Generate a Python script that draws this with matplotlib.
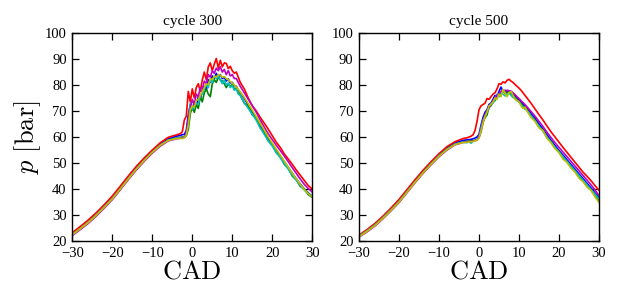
import matplotlib
matplotlib.use("Agg")
import matplotlib.pyplot as plt

plt.rcParams['font.family'] = ['Liberation Serif', 'DejaVu Serif']
plt.rcParams['mathtext.fontset'] = 'cm'

# crank angle grid: coarse on compression, finer around combustion
cad = [-30, -28, -26, -24, -22, -20, -18, -16, -14, -12, -10, -8, -6, -4,
       -3, -2.5, -2, -1.5, -1, -0.5, 0, 0.5, 1, 1.5, 2, 2.5, 3, 3.5, 4, 4.5,
       5, 5.5, 6, 6.5, 7, 7.5, 8, 8.5, 9, 9.5, 10, 10.5, 11, 11.5, 12,
       13, 14, 15, 16, 17, 18, 19, 20, 21, 22, 23, 24, 25, 26, 27, 28, 29, 30]

# cycle 300
p300_b = [22.5, 24.8, 27.2, 30.0, 33.1, 36.4, 40.2, 44.1, 47.8, 51.3, 54.4, 57.2, 59.3, 60.3,
          60.6, 60.9, 61.0, 62.5, 68.5, 72.5, 70.5, 73.5, 72.0, 75.5, 74.5, 78.0, 79.5, 78.0, 82.0, 81.0,
          83.5, 82.5, 84.5, 83.0, 84.0, 82.5, 83.0, 81.5, 82.3, 80.8, 81.0, 79.8, 79.5, 78.0, 77.2,
          74.8, 72.3, 69.5, 67.2, 64.3, 61.8, 59.2, 57.0, 54.8, 52.7, 50.4, 48.2, 46.0, 43.9, 41.9, 40.0, 38.5, 37.2]
p300_g = [22.4, 24.7, 27.1, 29.9, 33.0, 36.2, 40.0, 43.9, 47.6, 51.0, 54.1, 56.8, 58.8, 59.6,
          59.8, 60.0, 59.9, 60.5, 63.0, 69.0, 71.5, 69.5, 72.5, 71.0, 75.5, 73.5, 77.0, 78.5, 76.5, 75.5,
          80.5, 82.0, 81.0, 83.0, 82.0, 81.5, 80.5, 79.0, 80.5, 79.5, 80.2, 78.5, 78.8, 77.0, 76.0,
          73.0, 72.0, 68.5, 67.5, 63.5, 61.8, 58.5, 57.2, 54.0, 52.5, 49.5, 48.0, 45.0, 43.5, 41.0, 40.0, 37.8, 36.8]
p300_r = [23.2, 25.6, 28.1, 30.9, 34.0, 37.3, 41.1, 45.0, 48.7, 52.0, 55.0, 57.8, 59.9, 60.8,
          61.3, 62.0, 66.5, 68.0, 77.5, 73.5, 78.5, 75.0, 79.0, 80.5, 77.5, 82.0, 85.0, 82.0, 87.0, 88.5,
          85.5, 88.0, 90.2, 86.5, 89.5, 87.0, 88.5, 88.3, 86.3, 87.2, 85.5, 84.5, 85.0, 83.0, 81.0,
          78.5, 75.0, 72.0, 70.0, 67.5, 65.3, 63.0, 60.5, 58.0, 56.0, 53.5, 51.5, 49.5, 47.3, 45.3, 43.3, 41.3, 40.0]
p300_c = [22.5, 24.8, 27.2, 30.0, 33.1, 36.3, 40.1, 44.0, 47.7, 51.1, 54.2, 56.9, 58.8, 59.5,
          59.6, 59.6, 59.8, 61.0, 66.0, 73.0, 70.5, 72.0, 73.0, 72.5, 76.0, 76.5, 78.5, 80.0, 79.0, 82.0,
          81.0, 83.5, 82.5, 83.5, 82.0, 80.5, 82.0, 80.0, 80.8, 79.0, 79.8, 78.0, 78.5, 76.5, 76.0,
          73.2, 71.0, 68.8, 66.4, 63.5, 61.0, 58.5, 56.5, 54.0, 52.0, 49.8, 47.6, 45.4, 43.4, 41.4, 39.6, 38.2, 37.0]
p300_m = [22.1, 24.4, 26.8, 29.6, 32.7, 35.9, 39.7, 43.6, 47.3, 50.7, 53.8, 56.5, 58.5, 59.3,
          59.5, 59.6, 59.8, 61.5, 67.0, 71.0, 74.5, 72.5, 76.5, 75.5, 79.0, 78.5, 81.5, 80.5, 84.0, 83.0,
          85.5, 84.5, 86.5, 85.5, 87.0, 85.0, 86.0, 84.0, 85.5, 83.5, 84.0, 82.5, 82.5, 81.0, 79.5,
          77.0, 74.5, 72.0, 69.5, 66.5, 63.8, 61.2, 59.0, 56.8, 54.8, 52.7, 50.5, 48.2, 46.0, 43.8, 41.8, 40.2, 38.8]
p300_y = [22.4, 24.7, 27.1, 29.9, 33.0, 36.2, 40.0, 43.9, 47.6, 51.0, 54.1, 56.8, 58.7, 59.4,
          59.5, 59.4, 59.6, 60.8, 64.5, 70.5, 72.0, 71.5, 74.0, 74.5, 76.0, 77.5, 79.0, 80.5, 80.0, 82.5,
          82.0, 83.5, 83.0, 84.0, 83.8, 83.0, 83.2, 82.5, 82.0, 81.3, 80.8, 80.0, 79.3, 78.3, 77.3,
          75.2, 72.8, 70.3, 67.8, 65.2, 62.6, 60.0, 57.6, 55.3, 53.0, 50.7, 48.4, 46.1, 43.9, 41.8, 39.8, 38.2, 37.0]

# cycle 500
p500_b = [22.0, 24.0, 26.4, 29.2, 32.3, 35.5, 39.3, 43.1, 46.7, 50.0, 53.1, 55.8, 57.8, 58.7,
          58.9, 59.0, 59.1, 59.3, 59.6, 60.0, 61.0, 64.5, 67.5, 69.5, 70.5, 72.5, 73.0, 74.5, 76.0, 75.5,
          77.5, 79.2, 77.5, 78.0, 77.0, 77.8, 77.5, 76.5, 76.0, 75.0, 74.2, 73.5, 72.5, 71.8, 71.0,
          69.0, 67.2, 65.0, 63.0, 60.8, 58.7, 56.7, 54.8, 53.0, 51.2, 49.4, 47.6, 45.8, 44.0, 42.2, 40.4, 38.5, 36.6]
p500_g = [21.8, 23.8, 26.1, 28.9, 31.9, 35.1, 38.9, 42.7, 46.3, 49.6, 52.7, 55.3, 57.2, 58.1,
          58.3, 58.4, 58.5, 58.6, 58.7, 59.0, 59.8, 62.0, 65.5, 67.5, 68.5, 71.5, 72.0, 73.5, 74.0, 75.5,
          76.0, 77.0, 78.0, 76.8, 77.0, 77.5, 76.5, 76.0, 75.2, 74.5, 73.5, 72.8, 72.0, 70.8, 70.5,
          68.0, 66.5, 64.0, 62.5, 59.8, 58.2, 55.8, 54.3, 52.0, 50.5, 48.3, 46.8, 44.6, 43.2, 41.0, 39.6, 37.4, 35.6]
p500_r = [22.3, 24.4, 26.8, 29.6, 32.7, 36.0, 39.8, 43.6, 47.2, 50.5, 53.6, 56.3, 58.2, 59.4,
          59.7, 60.0, 60.3, 60.8, 62.5, 66.0, 70.5, 72.0, 72.5, 73.0, 74.8, 74.5, 75.5, 76.5, 77.0, 78.5,
          80.5, 80.3, 81.2, 80.8, 81.8, 82.2, 81.5, 81.0, 80.2, 79.5, 78.8, 78.0, 77.0, 76.0, 75.0,
          73.0, 70.8, 68.6, 66.5, 64.2, 62.0, 60.0, 58.0, 56.0, 54.1, 52.2, 50.3, 48.4, 46.5, 44.9, 43.2, 41.3, 39.5]
p500_c = [21.9, 23.9, 26.2, 29.0, 32.0, 35.2, 39.0, 42.8, 46.4, 49.7, 52.8, 55.4, 57.3, 58.0,
          57.8, 58.3, 57.6, 58.4, 58.6, 59.0, 60.0, 63.5, 66.5, 68.0, 70.0, 71.0, 72.8, 73.0, 74.5, 76.5,
          75.5, 77.0, 76.5, 75.8, 76.5, 77.0, 76.0, 75.2, 74.8, 74.0, 73.5, 72.5, 71.5, 71.0, 70.2,
          68.2, 66.2, 64.2, 62.2, 60.0, 58.0, 56.0, 54.2, 52.4, 50.6, 48.8, 47.0, 45.2, 43.4, 41.6, 39.8, 38.0, 36.2]
p500_m = [21.5, 23.5, 25.8, 28.6, 31.6, 34.8, 38.6, 42.4, 46.0, 49.3, 52.4, 55.0, 57.0, 57.9,
          58.1, 58.2, 58.3, 58.4, 58.6, 58.9, 60.0, 63.0, 66.0, 68.5, 70.0, 71.5, 72.5, 74.0, 75.0, 76.0,
          76.5, 77.5, 78.0, 77.5, 78.0, 77.8, 77.6, 77.0, 76.3, 75.5, 74.8, 74.0, 73.2, 72.5, 71.6,
          69.8, 68.0, 66.0, 64.0, 61.8, 59.8, 57.8, 56.0, 54.2, 52.4, 50.6, 48.8, 47.0, 45.2, 43.4, 41.6, 39.6, 37.4]
p500_y = [21.7, 23.7, 26.0, 28.8, 31.8, 35.0, 38.8, 42.6, 46.2, 49.5, 52.6, 55.2, 57.1, 57.9,
          58.0, 58.1, 58.2, 58.3, 58.5, 58.8, 59.5, 62.5, 65.5, 68.0, 69.5, 72.0, 72.5, 73.5, 75.0, 74.5,
          76.5, 75.5, 78.3, 77.0, 75.5, 77.0, 77.5, 76.0, 74.5, 74.0, 73.5, 72.0, 71.0, 71.5, 70.0,
          67.5, 66.0, 63.5, 62.5, 59.5, 57.8, 55.5, 54.0, 51.5, 50.2, 48.0, 46.5, 44.2, 42.8, 40.8, 39.5, 37.0, 34.8]

colors = ['b', 'g', 'r', 'c', 'm', 'y']
panels = [("cycle 300", [p300_b, p300_g, p300_r, p300_c, p300_m, p300_y]),
          ("cycle 500", [p500_b, p500_g, p500_r, p500_c, p500_m, p500_y])]

fig = plt.figure(figsize=(6.19, 2.86), dpi=100)
lefts = [0.1168, 0.580]

for i, (title, series) in enumerate(panels):
    ax = fig.add_axes([lefts[i], 0.1573, 0.3877, 0.7273])
    for p, c in zip(series, colors):
        ax.plot(cad, p, color=c, lw=1.2)
    ax.set_xlim(-30, 30)
    ax.set_ylim(20, 100)
    ax.set_xticks(range(-30, 31, 10))
    ax.set_yticks(range(20, 101, 10))
    ax.tick_params(direction='in', top=True, right=True, length=5, width=0.9,
                   labelsize=10.5)
    ax.tick_params(axis='x', pad=4)
    ax.tick_params(axis='y', pad=4)
    for s in ax.spines.values():
        s.set_linewidth(1.0)
    ax.set_title(title, fontsize=11, pad=6)
    ax.set_xlabel(r'$\mathrm{CAD}$', fontsize=19, labelpad=1)
    if i == 0:
        ax.set_ylabel(r'$p\ [\mathrm{bar}]$', fontsize=19, labelpad=1)

fig.savefig('out.png', dpi=100)
